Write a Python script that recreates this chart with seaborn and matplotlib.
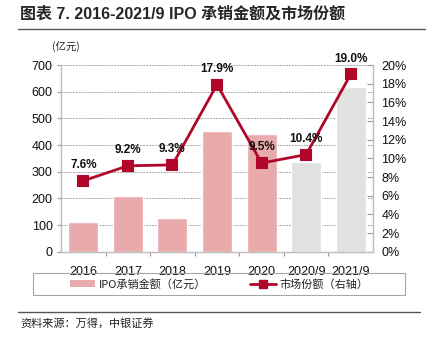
import matplotlib
matplotlib.use("Agg")
import matplotlib.pyplot as plt
import seaborn as sns
import pandas as pd
from matplotlib.patches import Patch, Rectangle
from matplotlib.lines import Line2D
from matplotlib.ticker import MultipleLocator, FixedLocator, PercentFormatter

# Data
years = ["2016", "2017", "2018", "2019", "2020", "2020/9", "2021/9"]
ipo_amount = [112, 210, 126, 452, 443, 337, 618]          # 亿元
market_share = [7.6, 9.2, 9.3, 17.9, 9.5, 10.4, 19.0]      # %
bar_colors = ["#E8AAAA"] * 5 + ["#E1E1E1"] * 2
line_color = "#B0062A"

sns.set_theme(style="white")
plt.rcParams["font.family"] = ["Liberation Sans", "Noto Sans CJK SC", "DejaVu Sans"]
CJK = ["Noto Sans CJK SC", "DejaVu Sans"]
MIXED = ["Liberation Sans", "Noto Sans CJK SC", "DejaVu Sans"]

df = pd.DataFrame({"year": years, "amount": ipo_amount, "share": market_share})

fig = plt.figure(figsize=(4.27, 3.43), dpi=100)
ax = fig.add_axes([61 / 427, 1 - 251.7 / 343, (373 - 61) / 427, (251.7 - 65) / 343])

sns.barplot(data=df, x="year", y="amount", hue="year", palette=bar_colors,
            legend=False, width=0.67, saturation=1, ax=ax, zorder=2)
ax.set_ylim(0, 700)
ax.yaxis.set_major_locator(MultipleLocator(100))
ax.grid(axis="y", color="#a8a8a8", linestyle=(0, (2, 1)), linewidth=0.7, zorder=0)
ax.set_axisbelow(True)
ax.set_xlabel("")
ax.set_ylabel("")

ax2 = ax.twinx()
sns.pointplot(data=df, x="year", y="share", color=line_color, markers="s",
              markersize=7, linewidth=2.0, ax=ax2, zorder=3)
ax2.set_ylim(0, 20)
ax2.yaxis.set_major_locator(MultipleLocator(2))
ax2.yaxis.set_major_formatter(PercentFormatter(decimals=0))
ax2.set_ylabel("")
ax2.set_xlabel("")
ax2.set_xlim(-0.5, len(years) - 0.5)
ax.set_xlim(-0.5, len(years) - 0.5)

for i, v in enumerate(market_share):
    ax2.annotate(f"{v:.1f}%", (i, v), xytext=(0, 7), textcoords="offset points",
                 ha="center", va="bottom", fontsize=8.5, fontweight="bold",
                 color="#111111", zorder=5)

# Spines and ticks
for a in (ax, ax2):
    a.spines["top"].set_visible(False)
    for s in ("left", "right", "bottom"):
        a.spines[s].set_color("#BFBFBF")
        a.spines[s].set_linewidth(0.9)

ax.tick_params(axis="y", which="major", left=True, length=3, width=0.8,
               color="#999999", labelsize=9, labelcolor="#111111", pad=3)
ax2.tick_params(axis="y", which="major", right=True, direction="in", length=4,
                width=0.8, color="#999999", labelsize=9, labelcolor="#111111", pad=6)
ax.tick_params(axis="x", which="major", bottom=False, labelsize=9,
               labelcolor="#111111", pad=4)
ax.xaxis.set_minor_locator(FixedLocator([i + 0.5 for i in range(len(years) - 1)]))
ax.tick_params(axis="x", which="minor", bottom=True, length=3, width=0.8,
               color="#999999")

# Title and header rule
fig.text(20 / 427, 1 - 14 / 343, "图表 7. 2016-2021/9 IPO 承销金额及市场份额",
         fontsize=11.5, fontweight="bold", ha="left", va="center", family=MIXED)
fig.add_artist(Line2D([18 / 427, 1.0], [1 - 29 / 343] * 2, color="#555555",
                      linewidth=1.0, transform=fig.transFigure))

fig.text(66 / 427, 1 - 47 / 343, "(亿元)", fontsize=7.5, ha="center", va="center",
         color="#222222", family=CJK)

# Legend with a plain rectangular frame
fig.add_artist(Rectangle((33 / 427, 1 - 295 / 343), (405 - 33) / 427, 22 / 343,
                         transform=fig.transFigure, facecolor="none",
                         edgecolor="#A6A6A6", linewidth=0.8))
handles = [
    Patch(facecolor="#E8AAAA", edgecolor="none"),
    Line2D([0], [0], color=line_color, linewidth=2.0, marker="s", markersize=6),
]
leg = fig.legend(handles, ["IPO承销金额（亿元）", "市场份额（右轴）"],
                 loc="center", ncol=2, bbox_to_anchor=(219 / 427, 1 - 284 / 343),
                 frameon=False, handlelength=2.3, handleheight=0.5,
                 columnspacing=4.0, handletextpad=0.3,
                 prop={"family": CJK, "size": 8})
for t in leg.get_texts():
    t.set_color("#222222")

# Footer rule and source
fig.add_artist(Line2D([18 / 427, 420 / 427], [1 - 311.5 / 343] * 2, color="#555555",
                      linewidth=1.0, transform=fig.transFigure))
fig.text(20 / 427, 1 - 323 / 343, "资料来源：万得，中银证券", fontsize=8,
         ha="left", va="center", color="#222222", family=CJK)

fig.savefig("out.png", dpi=100)
